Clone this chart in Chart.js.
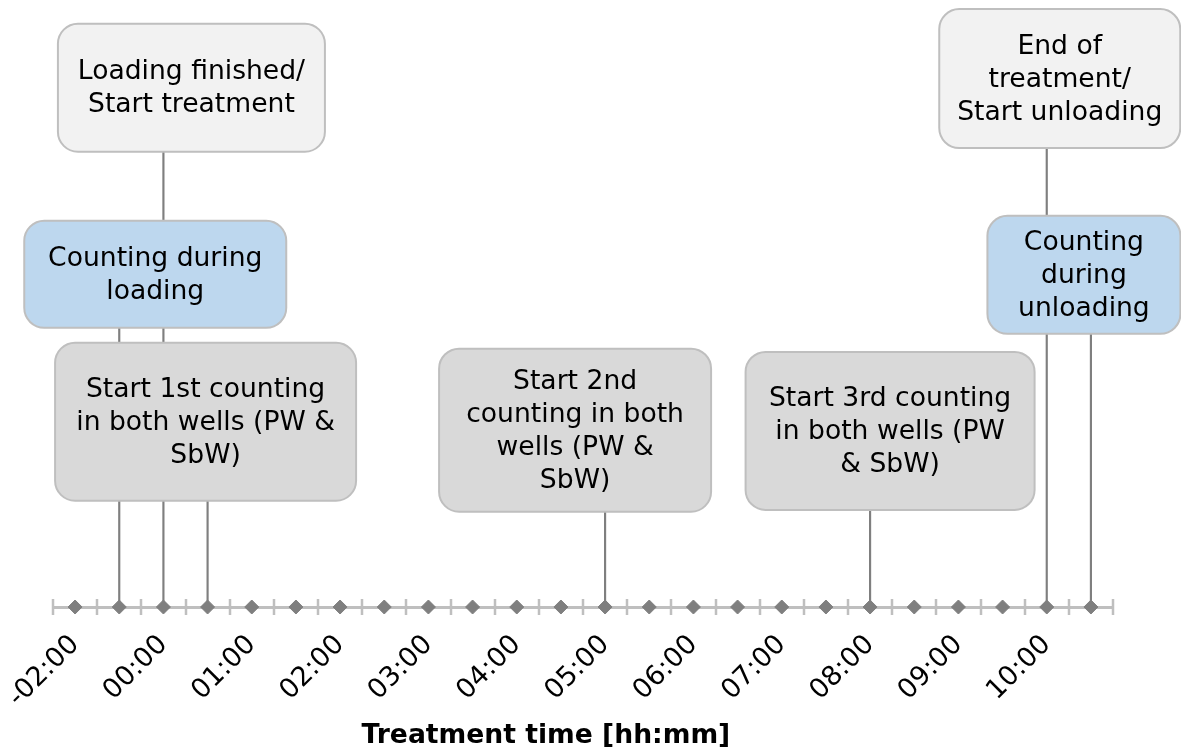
<!DOCTYPE html>
<html>
<head>
<meta charset="utf-8">
<title>Treatment timeline</title>
<script src="https://cdn.jsdelivr.net/npm/chart.js@4/dist/chart.umd.min.js"></script>
<style>
    html, body { margin: 0; padding: 0; background: #ffffff; }
    #timeline { display: block; }
</style>
</head>
<body>
<canvas id="timeline" width="1181" height="751"></canvas>
<script>
// Half-hour slots on the axis, only every second one is labelled
var timeSlots = [
    '-02:00', '-00:30', '00:00', '00:30', '01:00', '01:30',
    '02:00', '02:30', '03:00', '03:30', '04:00', '04:30',
    '05:00', '05:30', '06:00', '06:30', '07:00', '07:30',
    '08:00', '08:30', '09:00', '09:30', '10:00', '10:30'
];

// Every slot has a marker on the axis
var axisMarkers = [0, 0, 0, 0, 0, 0, 0, 0, 0, 0, 0, 0, 0, 0, 0, 0, 0, 0, 0, 0, 0, 0, 0, 0];

// Height of the drop line for each event (null = no event)
var eventHeights = [
    null, 46, 75, 17.5, null, null,
    null, null, null, null, null, null,
    15.7, null, null, null, null, null,
    16, null, null, null, 75.6, 45
];

// Event texts, already broken into lines
var eventTexts = {
    1: ['Counting during', 'loading'],
    2: ['Loading finished/', 'Start treatment'],
    3: ['Start 1st counting', 'in both wells (PW &', 'SbW)'],
    12: ['Start 2nd', 'counting in both', 'wells (PW &', 'SbW)'],
    18: ['Start 3rd counting', 'in both wells (PW', '& SbW)'],
    22: ['End of', 'treatment/', 'Start unloading'],
    23: ['Counting', 'during', 'unloading']
};

var axisTitle = 'Treatment time [hh:mm]';

// Box layout (offset from the drop line, size, fill)
var boxLayout = {
    1: { dx: 36, w: 262, h: 107, fill: '#bdd7ee' },
    2: { dx: 28, w: 267, h: 128, fill: '#f2f2f2' },
    3: { dx: -2, w: 301, h: 158, fill: '#d9d9d9' },
    12: { dx: -30, w: 272, h: 163, fill: '#d9d9d9' },
    18: { dx: 20, w: 289, h: 158, fill: '#d9d9d9' },
    22: { dx: 13, w: 241, h: 139, fill: '#f2f2f2' },
    23: { dx: -7, w: 193, h: 118, fill: '#bdd7ee' }
};

var FONT = '"DejaVu Sans", Verdana, sans-serif';

function roundedBox(ctx, x, y, w, h, r) {
    ctx.beginPath();
    ctx.moveTo(x + r, y);
    ctx.lineTo(x + w - r, y);
    ctx.arcTo(x + w, y, x + w, y + r, r);
    ctx.lineTo(x + w, y + h - r);
    ctx.arcTo(x + w, y + h, x + w - r, y + h, r);
    ctx.lineTo(x + r, y + h);
    ctx.arcTo(x, y + h, x, y + h - r, r);
    ctx.lineTo(x, y + r);
    ctx.arcTo(x, y, x + r, y, r);
    ctx.closePath();
}

var timelineDecor = {
    id: 'timelineDecor',
    beforeDatasetsDraw: function (chart) {
        // tick marks crossing the axis, at the slot boundaries
        var xs = chart.scales.x;
        var ctx = chart.ctx;
        var y0 = chart.chartArea.bottom;
        ctx.save();
        ctx.strokeStyle = '#bfbfbf';
        ctx.lineWidth = 2.5;
        for (var i = 0; i <= timeSlots.length; i++) {
            var x = Math.round(xs.getPixelForValue(i - 0.5));
            ctx.beginPath();
            ctx.moveTo(x, y0 - 8);
            ctx.lineTo(x, y0 + 8);
            ctx.stroke();
        }
        ctx.restore();
    },
    afterDatasetsDraw: function (chart) {
        // event boxes sitting on top of the drop lines
        var xs = chart.scales.x;
        var ys = chart.scales.y;
        var ctx = chart.ctx;
        ctx.save();
        Object.keys(eventTexts).forEach(function (key) {
            var i = parseInt(key, 10);
            var lay = boxLayout[i];
            var cx = xs.getPixelForValue(i) + lay.dx;
            var bottom = ys.getPixelForValue(eventHeights[i]);
            var left = cx - lay.w / 2;
            var top = bottom - lay.h;
            roundedBox(ctx, left, top, lay.w, lay.h, 20);
            ctx.fillStyle = lay.fill;
            ctx.fill();
            ctx.strokeStyle = '#bfbfbf';
            ctx.lineWidth = 2;
            ctx.stroke();

            var lines = eventTexts[i];
            var lh = 33;
            var cy = top + lay.h / 2 + 1;
            ctx.fillStyle = '#000000';
            ctx.font = '26.6px ' + FONT;
            ctx.textAlign = 'center';
            ctx.textBaseline = 'middle';
            lines.forEach(function (line, k) {
                ctx.fillText(line, cx, cy + (k - (lines.length - 1) / 2) * lh);
            });
        });

        // axis title, sitting a bit left of the plot centre as in the original
        var area = chart.chartArea;
        ctx.font = 'bold 26.6px ' + FONT;
        ctx.fillStyle = '#000000';
        ctx.textAlign = 'center';
        ctx.textBaseline = 'alphabetic';
        ctx.fillText(axisTitle, area.left + area.width * 0.465, 743);
        ctx.restore();
    }
};

new Chart(document.getElementById('timeline'), {
    type: 'bar',
    data: {
        labels: timeSlots,
        datasets: [{
            type: 'line',
            label: 'Slots',
            data: axisMarkers,
            showLine: false,
            pointStyle: 'rectRot',
            pointRadius: 7,
            pointBackgroundColor: '#7f7f7f',
            pointBorderColor: '#7f7f7f',
            pointBorderWidth: 1,
            clip: false,
            order: 0
        }, {
            label: 'Events',
            data: eventHeights,
            backgroundColor: '#7f7f7f',
            barThickness: 1.5,
            order: 1
        }]
    },
    options: {
        responsive: false,
        animation: false,
        layout: {
            autoPadding: false,
            padding: { left: 53, right: 68, top: 0, bottom: 0 }
        },
        plugins: {
            legend: { display: false },
            tooltip: { enabled: false }
        },
        scales: {
            x: {
                offset: true,
                grid: {
                    display: true,
                    offset: true,
                    drawOnChartArea: false,
                    drawTicks: false
                },
                border: {
                    color: '#bfbfbf',
                    width: 3
                },
                ticks: {
                    autoSkip: false,
                    maxRotation: 45,
                    minRotation: 45,
                    padding: 22,
                    color: '#000000',
                    font: { family: FONT, size: 27 },
                    callback: function (value, index) {
                        return index % 2 === 0 ? timeSlots[index] : '';
                    }
                },
                afterFit: function (scale) {
                    // fixed axis band; the first rotated label may hang into the margin
                    scale.height = 144;
                    scale.paddingLeft = 0;
                    scale.paddingRight = 0;
                }
            },
            y: {
                display: false,
                min: 0,
                max: 100
            }
        }
    },
    plugins: [timelineDecor]
});
</script>
</body>
</html>
